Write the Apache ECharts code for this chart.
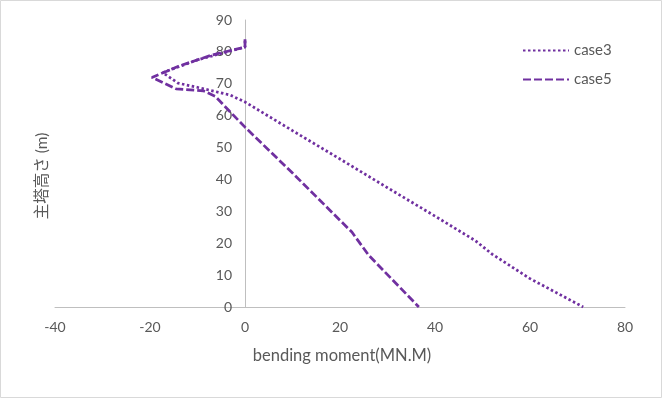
<!DOCTYPE html>
<html>
<head>
<meta charset="utf-8">
<script src="https://cdn.jsdelivr.net/npm/echarts@6/dist/echarts.min.js"></script>
<style>
html,body{margin:0;padding:0;background:#fff;}
#chart{width:662px;height:398px;}
</style>
</head>
<body>
<div id="chart"></div>
<script>
// case3 (dotted): [moment MN.M, height m]
const case3Moment = [0, 0, -10, -17.3, -14.1, -9.5, -3.2, 0, 10, 20, 30, 40, 48.5, 52, 60, 71.2];
const case3Height = [83.5, 81.5, 77.5, 73.5, 70.2, 68.7, 66.5, 64.3, 55.3, 46.4, 37.4, 28.5, 20.8, 16.6, 8.9, 0];
// case5 (dashed)
const case5Moment = [0, 0, -7, -14, -19.6, -14.5, -8.8, -6.3, -3.2, 0, 10, 22.5, 26, 36.6];
const case5Height = [84, 81.5, 79, 75.5, 72, 68.4, 67.8, 66.1, 61.3, 56.4, 42, 23.5, 16.3, 0];
const xTicks = {min: -40, max: 80, interval: 20};
const yTicks = {min: 0, max: 90, interval: 10};
const seriesNames = ['case3', 'case5'];
const xName = 'bending moment(MN.M)';
const yName = '主塔高さ (m)';

const pair = (xs, ys) => xs.map((x, i) => [x, ys[i]]);
const purple = '#7030a0';
const txt = '#595959';
const font = 'Lato, "Noto Sans CJK JP", sans-serif';

const chart = echarts.init(document.getElementById('chart'));
chart.setOption({
  animation: false,
  backgroundColor: '#fff',
  grid: {left: 55, right: 37, top: 20, bottom: 91, containLabel: false},
  xAxis: {
    type: 'value', min: xTicks.min, max: xTicks.max, interval: xTicks.interval,
    axisLine: {show: true, onZero: false, lineStyle: {color: '#bfbfbf', width: 1}},
    axisTick: {show: false},
    splitLine: {show: false},
    axisLabel: {color: txt, fontSize: 14, fontFamily: font, margin: 13},
    name: xName, nameLocation: 'middle', nameGap: 40,
    nameTextStyle: {color: txt, fontSize: 16.5, fontFamily: font, padding: [0, 0, 0, 4]}
  },
  yAxis: {
    type: 'value', min: yTicks.min, max: yTicks.max, interval: yTicks.interval,
    position: 'left', offset: -190,
    axisLine: {show: true, onZero: false, lineStyle: {color: '#bfbfbf', width: 1}},
    axisTick: {show: false},
    splitLine: {show: false},
    axisLabel: {color: txt, fontSize: 14, fontFamily: font, margin: 13}
  },
  legend: {
    orient: 'vertical', left: 517, top: 38, itemWidth: 46, itemHeight: 10, itemGap: 14,
    textStyle: {color: txt, fontSize: 15, fontFamily: font},
    itemStyle: {opacity: 0},
    data: seriesNames
  },
  graphic: [
    {type: 'rect', shape: {x: 0.5, y: 0.5, width: 661, height: 397}, style: {fill: 'none', stroke: '#d9d9d9', lineWidth: 1}, silent: true},
    {type: 'text', x: 42, y: 176, rotation: Math.PI / 2,
     style: {text: yName, fill: txt, fontSize: 15.5, fontFamily: font, align: 'center', verticalAlign: 'middle'}}
  ],
  series: [
    {name: seriesNames[0], type: 'line', data: pair(case3Moment, case3Height), symbol: 'none',
     lineStyle: {color: purple, width: 2.75, type: [2.5, 2.5], cap: 'butt'}, itemStyle: {color: purple}},
    {name: seriesNames[1], type: 'line', data: pair(case5Moment, case5Height), symbol: 'none',
     lineStyle: {color: purple, width: 2.75, type: [8, 3], cap: 'butt'}, itemStyle: {color: purple}}
  ]
});
</script>
</body>
</html>
